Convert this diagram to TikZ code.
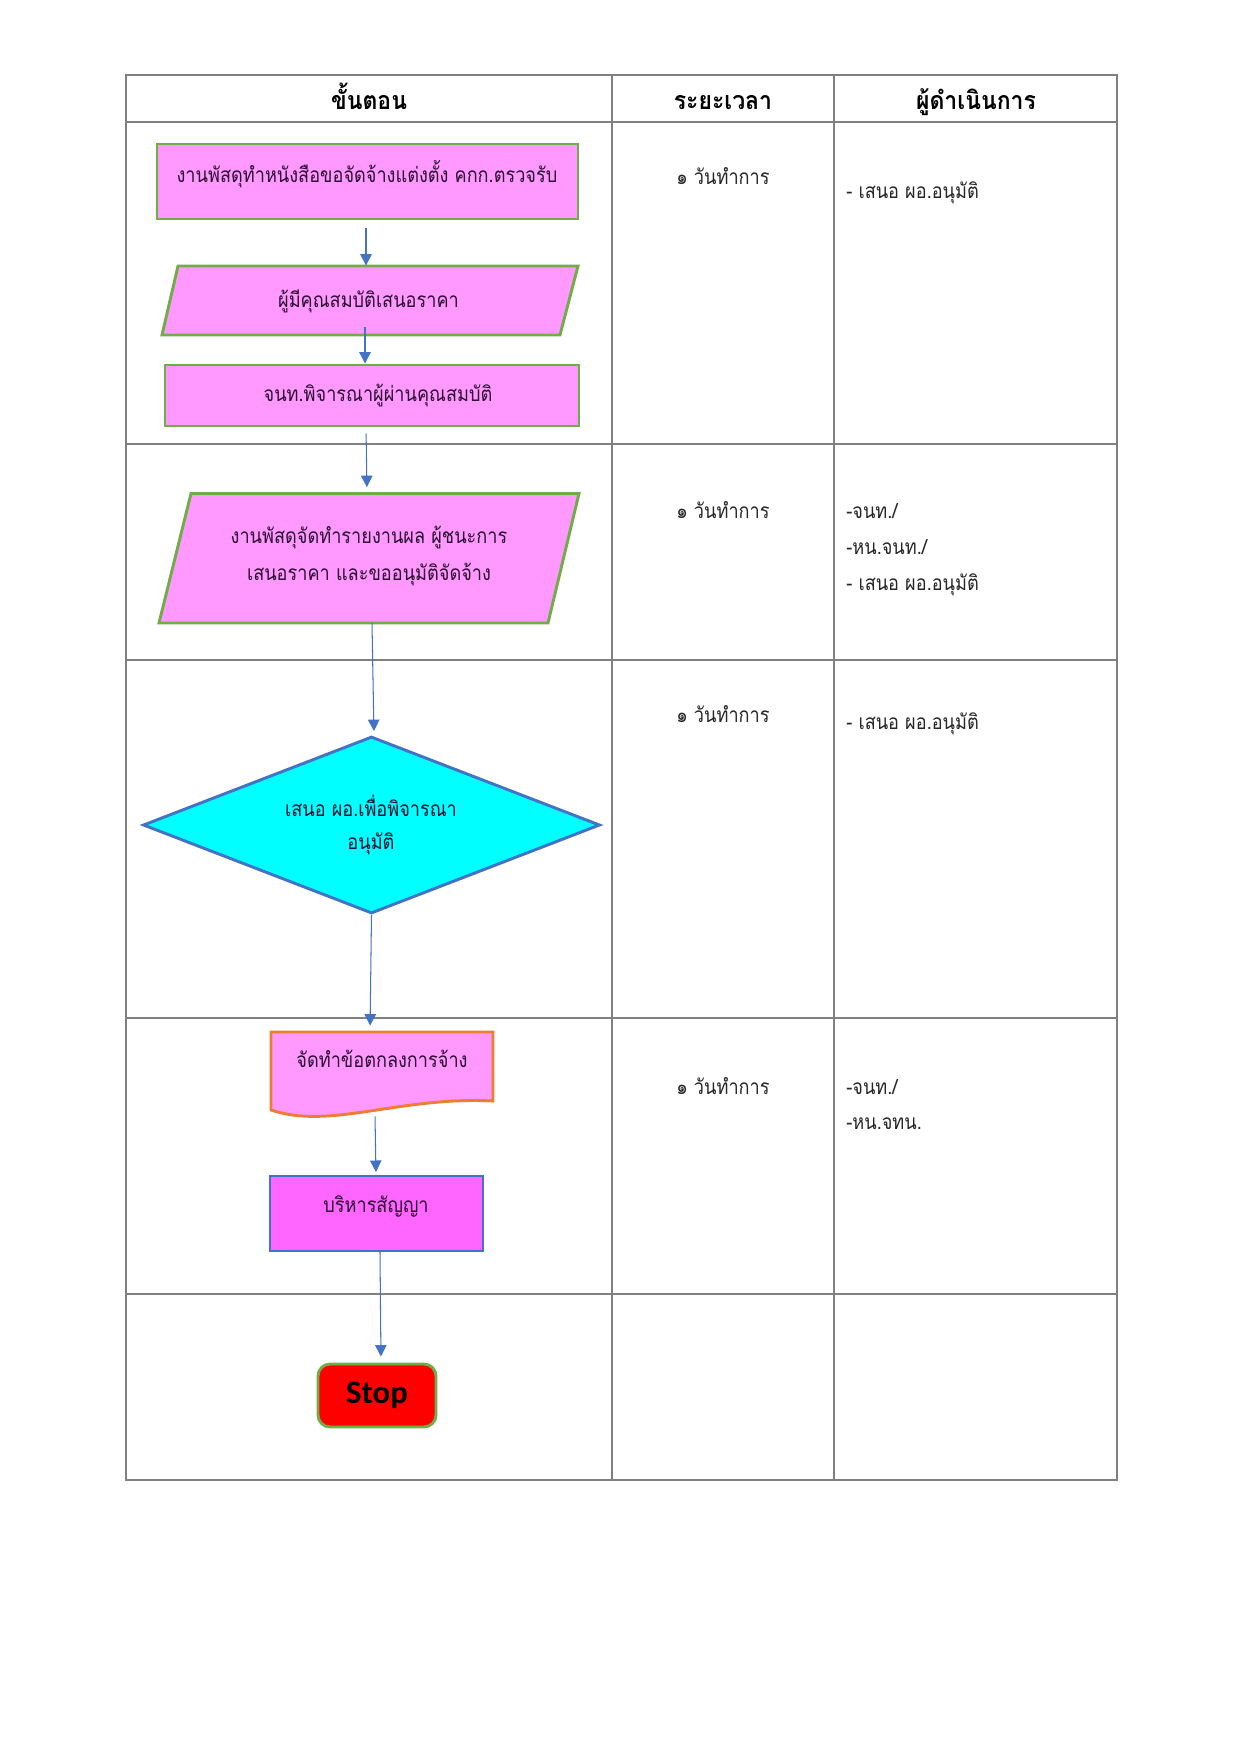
\documentclass[tikz,border=0pt]{standalone}
\usepackage{fontspec}
\newfontfamily\thaifont[Script=Thai]{Loma}
\newfontfamily\thaihead[Script=Thai, FakeStretch=0.92]{Loma}
\newfontfamily\thainarrow[Script=Thai, FakeStretch=0.87]{Loma}
\newfontfamily\stopfont{Carlito}
\usetikzlibrary{shapes.geometric,arrows.meta}

\newcommand{\pxu}{0.47968pt}
\definecolor{rulegray}{HTML}{808080}
\definecolor{boxpink}{HTML}{FF99FF}
\definecolor{boxmagenta}{HTML}{FF66FF}
\definecolor{boxgreen}{HTML}{70AD47}
\definecolor{boxorange}{HTML}{ED7D31}
\definecolor{flowblue}{HTML}{4472C4}
\definecolor{decisioncyan}{HTML}{00FFFF}
\definecolor{stopred}{HTML}{FF0000}
\definecolor{celltextcolor}{HTML}{262626}
\definecolor{boxtextcolor}{HTML}{2A1030}

\tikzset{
  rule/.style={draw=rulegray, line width=0.7pt},
  headtext/.style={anchor=base, inner sep=0pt, font=\thaihead\bfseries\fontsize{12}{14}\selectfont},
  celltext/.style={anchor=base, inner sep=0pt, font=\thainarrow\fontsize{10}{17.3}\selectfont, text=celltextcolor},
  boxtext/.style={anchor=base, inner sep=0pt, align=center, text=boxtextcolor, font=\thainarrow\fontsize{10}{17.3}\selectfont},
  procbox/.style={draw=boxgreen, line width=1.4pt, fill=boxpink, inner sep=0pt},
  iobox/.style={fill=boxpink, draw=boxgreen, line width=1.4pt, line join=miter},
  flow/.style={draw=flowblue, line width=0.5pt, -{Triangle[width=5.5pt,length=5.5pt]}},
}

\begin{document}
\begin{tikzpicture}[x=\pxu, y=-\pxu]
  \fill[white] (0,0) rectangle (1241,1755);

  % === TABLE ===
  \draw[rule] (126,75) rectangle (1117,1480);
  \foreach \y in {122,444,660,1018,1294}
    \draw[rule] (126,\y) -- (1117,\y);
  \foreach \x in {612,834}
    \draw[rule] (\x,75) -- (\x,1480);

  \node[headtext] (head-step) at (369,109) {ขั้นตอน};
  \node[headtext] (head-time) at (723,109) {ระยะเวลา};
  \node[headtext] (head-who) at (976,109) {ผู้ดำเนินการ};

  % time column
  \node[celltext] (time-1) at (723,184) {๑ วันทำการ};
  \node[celltext] (time-2) at (723,518) {๑ วันทำการ};
  \node[celltext] (time-3) at (723,722) {๑ วันทำการ};
  \node[celltext] (time-4) at (723,1094) {๑ วันทำการ};

  % who column
  \node[celltext, anchor=base west] (who-1) at (846,198) {- เสนอ ผอ.อนุมัติ};
  \node[celltext, anchor=base west] (who-2a) at (846,518) {-จนท./};
  \node[celltext, anchor=base west] (who-2b) at (846,554) {-หน.จนท./};
  \node[celltext, anchor=base west] (who-2c) at (846,590) {- เสนอ ผอ.อนุมัติ};
  \node[celltext, anchor=base west] (who-3) at (846,729) {- เสนอ ผอ.อนุมัติ};
  \node[celltext, anchor=base west] (who-4a) at (846,1094) {-จนท./};
  \node[celltext, anchor=base west] (who-4b) at (846,1129) {-หน.จทน.};

  % === FLOW ===
  \node[procbox, minimum width=421*\pxu, minimum height=75*\pxu] (order) at (367.5,181.5) {};
  \node[boxtext] (order-t) at (367,182) {งานพัสดุทำหนังสือขอจัดจ้างแต่งตั้ง คกก.ตรวจรับ};

  % parallelogram
  \node[minimum width=416*\pxu, minimum height=69*\pxu, inner sep=0pt] (offer) at (370,300.5) {};
  \filldraw[iobox] (178,266) -- (578,266) -- (560,335) -- (162,335) -- cycle;
  \node[boxtext] (offer-t) at (368.5,307) {ผู้มีคุณสมบัติเสนอราคา};

  \node[procbox, minimum width=414*\pxu, minimum height=61*\pxu] (check) at (372,395.5) {};
  \node[boxtext] (check-t) at (378,401) {จนท.พิจารณาผู้ผ่านคุณสมบัติ};

  % parallelogram
  \node[minimum width=420*\pxu, minimum height=129*\pxu, inner sep=0pt] (report) at (369,558) {};
  \filldraw[iobox] (191,493.5) -- (579,493.5) -- (548,623) -- (159,623) -- cycle;
  \node[boxtext] (report-t) at (369,580) {งานพัสดุจัดทำรายงานผล ผู้ชนะการ\\เสนอราคา และขออนุมัติจัดจ้าง};

  \node[shape=diamond, draw=flowblue, line width=1.4pt, fill=decisioncyan, inner sep=0pt, aspect=2.58,
    minimum width=457*\pxu, minimum height=177*\pxu] (decide) at (371.5,825) {};
  \node[boxtext, font=\thainarrow\fontsize{10}{15.8}\selectfont] (decide-t) at (371,849) {เสนอ ผอ.เพื่อพิจารณา\\อนุมัติ};

  % document shape
  \node[minimum width=222*\pxu, minimum height=83*\pxu, inner sep=0pt] (deal) at (382,1073.5) {};
  \filldraw[fill=boxpink, draw=boxorange, line width=1.4pt]
    (271,1032) -- (493,1032) -- (493,1101)
    .. controls (400,1096) and (330,1130) .. (271,1110) -- cycle;
  \node[boxtext] (deal-t) at (382,1067) {จัดทำข้อตกลงการจ้าง};

  \node[draw=flowblue, line width=1pt, fill=boxmagenta, minimum width=213*\pxu, minimum height=75*\pxu, inner sep=0pt]
    (manage) at (376.5,1213.5) {};
  \node[boxtext] (manage-t) at (376,1212) {บริหารสัญญา};

  \node[draw=boxgreen, line width=1.4pt, fill=stopred, rounded corners=5.8pt, minimum width=118*\pxu, minimum height=63*\pxu,
    font=\stopfont\bfseries\fontsize{15.7}{18}\selectfont] (stop) at (377,1395.5) {\raisebox{-1pt}{Stop}};

  % connectors
  \draw[flow, shorten <=8*\pxu] (order.south -| 366,0) -- (offer.north -| 366,0);
  \draw[flow, shorten <=-8*\pxu] (offer.south -| 365,0) -- (check.north -| 365,0);
  \draw[flow, shorten <=6*\pxu, shorten >=6*\pxu] (check.south -| 366,0) -- (report.north -| 367,0);
  \draw[flow, shorten >=4*\pxu] (report.south -| 372,0) -- (decide.north -| 374,0);
  \draw[flow, shorten >=6*\pxu] (decide.south) -- (deal.north -| 370,0);
  \draw[flow, shorten <=1*\pxu, shorten >=3*\pxu] (deal.south -| 375,0) -- (manage.north -| 376,0);
  \draw[flow, shorten >=6*\pxu] (manage.south -| 380,0) -- (stop.north -| 381,0);
\end{tikzpicture}
\end{document}
